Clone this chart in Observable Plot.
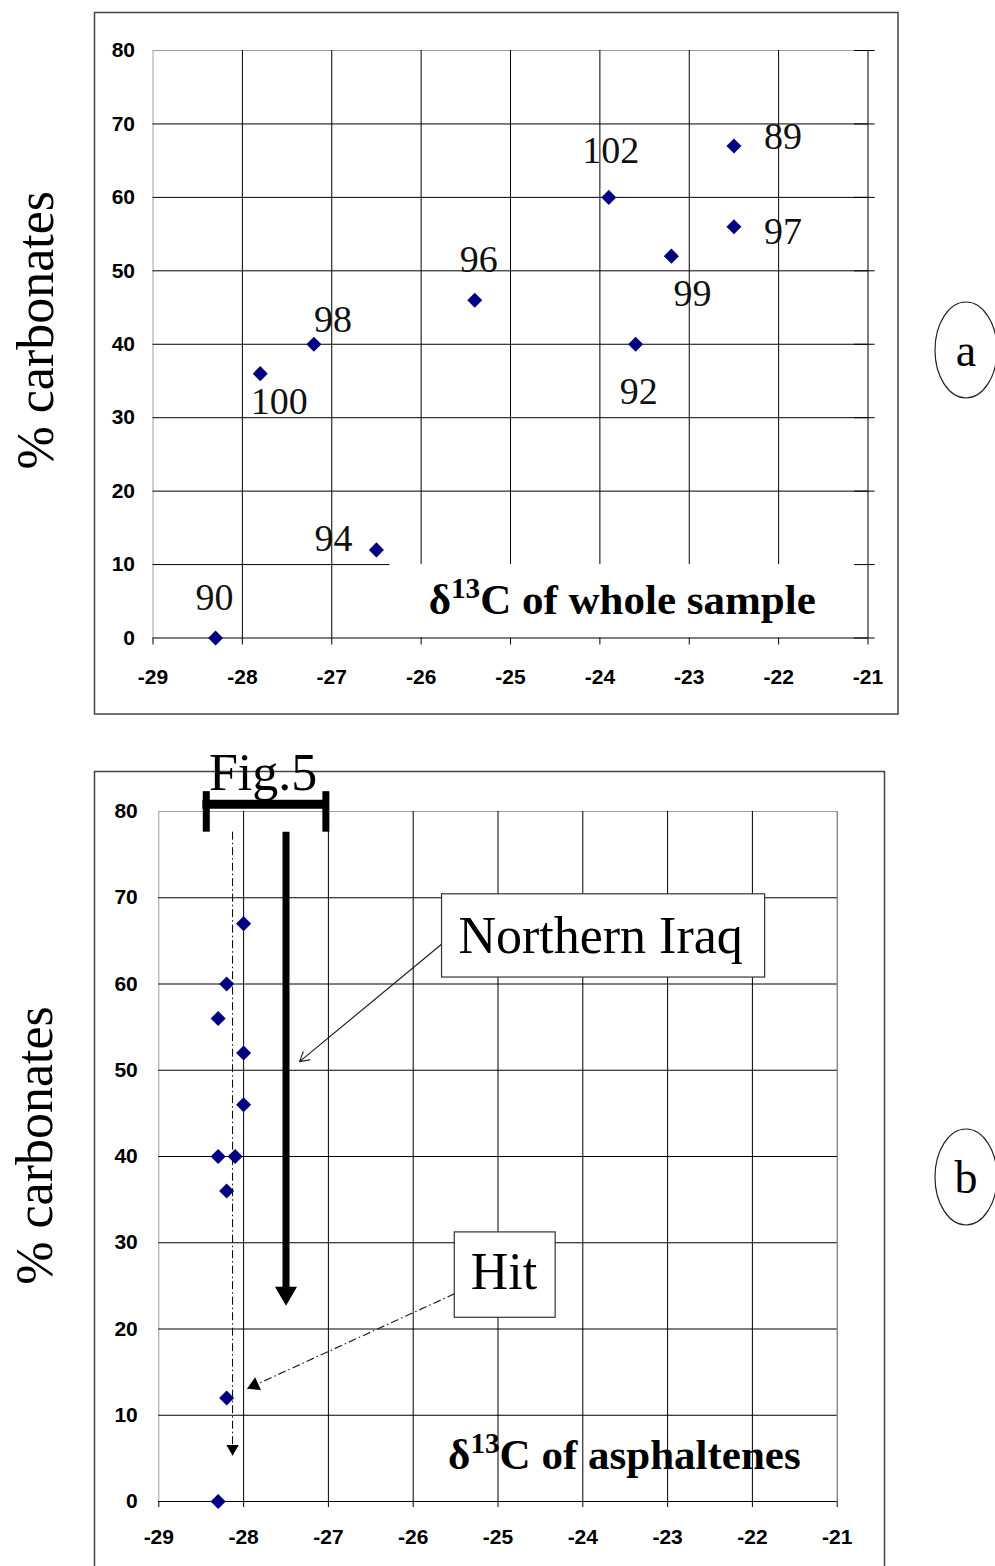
<!DOCTYPE html>
<html><head><meta charset="utf-8">
<script src="https://cdn.jsdelivr.net/npm/d3@7"></script>
<script src="https://cdn.jsdelivr.net/npm/@observablehq/plot@0.6"></script>
<style>
html,body{margin:0;padding:0;background:#fff;}
#page{position:relative;width:995px;height:1566px;overflow:hidden;background:#fff;}
#page > div, #page > svg{position:absolute;left:0;}
</style></head>
<body><div id="page">
<svg id="deco" width="995" height="1566" style="top:0">
  <rect x="94.5" y="12.5" width="803.5" height="701.5" fill="none" stroke="#444" stroke-width="1.5"/>
  <rect x="94.5" y="771.5" width="790" height="820" fill="none" stroke="#444" stroke-width="1.5"/>
  <ellipse cx="966" cy="350" rx="31" ry="48" fill="none" stroke="#222" stroke-width="1.2"/>
  <text x="966" y="366" text-anchor="middle" font-family="'Liberation Serif','Times New Roman',serif" font-size="46">a</text>
  <ellipse cx="966" cy="1177" rx="31" ry="48" fill="none" stroke="#222" stroke-width="1.2"/>
  <text x="966" y="1193" text-anchor="middle" font-family="'Liberation Serif','Times New Roman',serif" font-size="46">b</text>
</svg>
<div id="chartA" style="top:0"></div>
<div id="chartB" style="top:740px"></div>
</div>
<script>
// ---- data ----
const xTicks = [-29, -28, -27, -26, -25, -24, -23, -22, -21];
const yTicks = [0, 10, 20, 30, 40, 50, 60, 70, 80];
const sampleIds = ["89", "90", "92", "94", "96", "97", "98", "99", "100", "102"];
const wholeSampleD13C = [-22.5, -28.3, -23.6, -26.5, -25.4, -22.5, -27.2, -23.2, -27.8, -23.9];
const carbonatesA = [67, 0, 40, 12, 46, 56, 40, 52, 36, 60];
const asphalteneD13C = [-28.0, -28.2, -28.3, -28.0, -28.0, -28.3, -28.1, -28.2, -28.2, -28.3];
const carbonatesB = [67, 60, 56, 52, 46, 40, 40, 36, 12, 0];
const yTitle = "% carbonates";
const xTitleA = "δ13C of whole sample";
const xTitleB = "δ13C of asphaltenes";
const noteNorth = "Northern Iraq";
const noteHit = "Hit";
const noteFig = "Fig.5";

// ---- styling helpers ----
const serif = "'Liberation Serif','Times New Roman',serif";
const sans = "'Liberation Sans',Arial,sans-serif";
const fmt = d => String(d);
const axisText = {fontSize: 21, fontWeight: "bold", fontFamily: sans, tickFormat: fmt, label: null};

// label offsets (pixels) for chart a
const labelOffsetA = {
  "89": [49, -9], "97": [49, 5], "102": [2, -47], "99": [21, 38], "92": [3, 48],
  "96": [4, -40], "98": [19, -24], "100": [19, 28], "94": [-43, -11], "90": [-1, -40]
};

const ptsA = sampleIds.map((id, i) => ({id, x: wholeSampleD13C[i], y: carbonatesA[i]}));
const ptsB = asphalteneD13C.map((x, i) => ({x, y: carbonatesB[i]}));

// turn "δ13C ..." into δ + superscript 13 + rest
function superscript(svg, label) {
  d3.select(svg).selectAll("text").filter(function() { return this.textContent === label; })
    .each(function() {
      const t = d3.select(this);
      t.text(null);
      t.append("tspan").text("δ");
      t.append("tspan").attr("font-size", "0.68em").attr("dy", "-0.55em").text("13");
      t.append("tspan").attr("dy", "0.374em").text(label.slice(3));
    });
}

const chartA = Plot.plot({
  width: 995, height: 720,
  marginLeft: 152.5, marginRight: 127.5, marginTop: 50, marginBottom: 82.5,
  x: {domain: [-29, -21]}, y: {domain: [0, 80]},
  style: {background: "transparent", overflow: "visible", fontFamily: sans},
  marks: [
    Plot.ruleY([80], {x1: -29, x2: -21, stroke: "#a0a0a0"}),
    Plot.ruleX([-29], {y1: 0, y2: 80, stroke: "#a0a0a0"}),
    Plot.ruleY([20, 30, 40, 50, 60, 70], {x1: -29, x2: -21, stroke: "#000"}),
    Plot.ruleY([10], {x1: -29, x2: -26.35, stroke: "#000"}),
    Plot.ruleX([-28, -27], {y1: 0, y2: 80, stroke: "#000"}),
    Plot.ruleX([-26, -25, -24, -23, -22], {y1: 10, y2: 80, stroke: "#000"}),
    Plot.ruleX([-21], {y1: 0, y2: 80, stroke: "#000"}),
    Plot.ruleY([0], {x1: -29, x2: -21, stroke: "#000"}),
    Plot.ruleY(yTicks, {x1: -21.15, x2: -20.92, stroke: "#000"}),
    Plot.axisX({ticks: xTicks, tickSize: 7, tickPadding: 24, ...axisText}),
    Plot.axisY({ticks: yTicks, tickSize: 0, tickPadding: 18, ...axisText}),
    Plot.dot(ptsA, {x: "x", y: "y", symbol: "square", rotate: 45, r: 6, fill: "#000080", stroke: "none"}),
    ...ptsA.map(p => Plot.text([p], {
      x: "x", y: "y", text: "id", dx: labelOffsetA[p.id][0], dy: labelOffsetA[p.id][1],
      fontSize: 38, fontFamily: serif, lineAnchor: "middle", fill: "#111"
    })),
    Plot.text([xTitleA], {text: d => d, x: -23.75, y: 5.2, fontSize: 43, fontWeight: "bold", fontFamily: serif, lineAnchor: "middle"}),
    Plot.text([yTitle], {text: d => d, frameAnchor: "left", textAnchor: "middle", rotate: -90, dx: -117, dy: -14, fontSize: 52, fontFamily: serif, lineAnchor: "middle"})
  ]
});
superscript(chartA, xTitleA);
document.getElementById("chartA").append(chartA);

const chartB = Plot.plot({
  width: 995, height: 826,
  marginLeft: 158.3, marginRight: 158.3, marginTop: 71, marginBottom: 65,
  x: {domain: [-29, -21]}, y: {domain: [0, 80]},
  style: {background: "transparent", overflow: "visible", fontFamily: sans},
  marks: [
    Plot.ruleY([80], {x1: -29, x2: -21, stroke: "#a0a0a0"}),
    Plot.ruleX([-29], {y1: 0, y2: 80, stroke: "#a0a0a0"}),
    Plot.ruleX([-21], {y1: 0, y2: 80, stroke: "#555"}),
    Plot.ruleY([0, 10, 20, 30, 40, 50, 60, 70], {x1: -29, x2: -21, stroke: "#000"}),
    Plot.ruleX([-28, -27, -26, -25, -24, -23, -22], {y1: 0, y2: 80, stroke: "#000"}),
    Plot.axisX({ticks: xTicks, tickSize: 6, tickPadding: 22, ...axisText}),
    Plot.axisY({ticks: yTicks, tickSize: 0, tickPadding: 21, ...axisText}),
    // Fig.5 bracket
    Plot.ruleY([80.83], {x1: -28.48, x2: -26.99, stroke: "#000", strokeWidth: 9}),
    Plot.ruleX([-28.44, -27.03], {y1: 77.6, y2: 82.3, stroke: "#000", strokeWidth: 7}),
    Plot.text([noteFig], {text: d => d, x: -27.77, y: 84.4, fontSize: 52, fontFamily: serif, lineAnchor: "middle"}),
    // dash-dot vertical arrow
    Plot.ruleX([-28.13], {y1: 77.6, y2: 6.5, stroke: "#000", strokeWidth: 1, strokeDasharray: "8,3,1.5,3"}),
    Plot.dot([{x: -28.13, y: 5.3}], {x: "x", y: "y", symbol: "triangle", r: 4.6, rotate: 180, dy: -7.1, fill: "#000", stroke: "none"}),
    // thick arrow
    Plot.ruleX([-27.5], {y1: 77.6, y2: 24.5, stroke: "#000", strokeWidth: 7}),
    Plot.dot([{x: -27.5, y: 22.7}], {x: "x", y: "y", symbol: "triangle", r: 8.2, rotate: 180, dy: -12.7, fill: "#000", stroke: "none"}),
    // Northern Iraq callout
    Plot.arrow([{x1: -25.63, y1: 64.9, x2: -27.34, y2: 51.0}], {x1: "x1", y1: "y1", x2: "x2", y2: "y2", stroke: "#222", strokeWidth: 1.2, headLength: 13}),
    Plot.rect([{x1: -25.66, x2: -21.85, y1: 60.75, y2: 70.4}], {x1: "x1", x2: "x2", y1: "y1", y2: "y2", fill: "#fff", stroke: "#333", strokeWidth: 1.2}),
    Plot.text([noteNorth], {text: d => d, x: -23.79, y: 65.5, fontSize: 52, fontFamily: serif, lineAnchor: "middle"}),
    // Hit callout
    Plot.link([{x1: -25.51, y1: 24.1, x2: -27.96, y2: 13.07}], {x1: "x1", y1: "y1", x2: "x2", y2: "y2", stroke: "#222", strokeWidth: 1.2, strokeDasharray: "8,3,1.5,3"}),
    Plot.dot([{x: -27.96, y: 13.07}], {x: "x", y: "y", symbol: "triangle", r: 5.2, rotate: 245.5, dx: 7.4, dy: -3.4, fill: "#000", stroke: "none"}),
    Plot.rect([{x1: -25.51, x2: -24.32, y1: 21.3, y2: 31.2}], {x1: "x1", x2: "x2", y1: "y1", y2: "y2", fill: "#fff", stroke: "#333", strokeWidth: 1.2}),
    Plot.text([noteHit], {text: d => d, x: -24.93, y: 26.55, fontSize: 52, fontFamily: serif, lineAnchor: "middle"}),
    Plot.text([xTitleB], {text: d => d, x: -23.51, y: 5.33, fontSize: 43, fontWeight: "bold", fontFamily: serif, lineAnchor: "middle"}),
    Plot.text([yTitle], {text: d => d, frameAnchor: "left", textAnchor: "middle", rotate: -90, dx: -123, dy: -11, fontSize: 52, fontFamily: serif, lineAnchor: "middle"}),
    Plot.dot(ptsB, {x: "x", y: "y", symbol: "square", rotate: 45, r: 6, fill: "#000080", stroke: "none"})
  ]
});
superscript(chartB, xTitleB);
document.getElementById("chartB").append(chartB);
</script>
</body></html>
